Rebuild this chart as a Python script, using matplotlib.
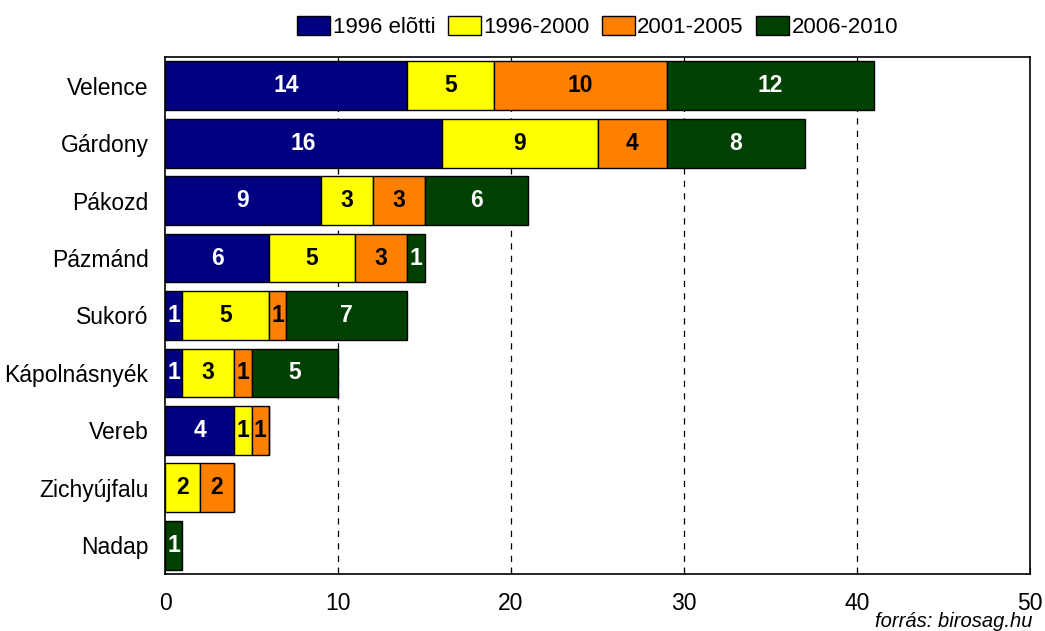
import numpy as np
import matplotlib.pyplot as plt

plt.rcParams['font.family'] = ['Liberation Sans', 'DejaVu Sans']

towns = ["Velence", "Gárdony", "Pákozd", "Pázmánd", "Sukoró",
         "Kápolnásnyék", "Vereb", "Zichyújfalu", "Nadap"]
periods = ["1996 elõtti", "1996-2000", "2001-2005", "2006-2010"]
before_1996 = [14, 16, 9, 6, 1, 1, 4, 0, 0]
p1996_2000 = [5, 9, 3, 5, 5, 3, 1, 2, 0]
p2001_2005 = [10, 4, 3, 3, 1, 1, 1, 2, 0]
p2006_2010 = [12, 8, 6, 1, 7, 5, 0, 0, 1]

series = [before_1996, p1996_2000, p2001_2005, p2006_2010]
colors = ["#000080", "#FFFF00", "#FF8000", "#004000"]
text_colors = ["white", "black", "black", "white"]

fig = plt.figure(figsize=(10.45, 6.31), dpi=100)
ax = fig.add_axes([0.158, 0.0903, 0.8276, 0.8194])

y = np.arange(len(towns))
left = np.zeros(len(towns))
for vals, col, tc, name in zip(series, colors, text_colors, periods):
    vals = np.array(vals)
    bars = ax.barh(y, vals, left=left, height=0.85, color=col,
                   edgecolor="black", linewidth=1, label=name, zorder=3)
    for b, v in zip(bars, vals):
        if v > 0:
            ax.text(b.get_x() + b.get_width() / 2, b.get_y() + b.get_height() / 2,
                    str(v), ha="center", va="center", color=tc,
                    fontsize=16.5, fontweight="bold", zorder=4)
    left += vals

ax.set_xlim(0, 50)
ax.set_ylim(len(towns) - 0.5, -0.5)
ax.set_xticks([0, 10, 20, 30, 40, 50])
ax.set_yticks(y)
ax.set_yticklabels(towns)
ax.tick_params(axis="x", direction="in", length=5, labelsize=16.5, pad=13)
ax.tick_params(axis="y", length=0, labelsize=16.5, pad=12)
for xv in [10, 20, 30, 40]:
    ax.axvline(xv, color="black", linestyle=(0, (5, 5)), linewidth=0.9, zorder=1)
for s in ax.spines.values():
    s.set_linewidth(1.2)

ax.legend(loc="lower center", bbox_to_anchor=(0.5, 1.015), ncol=4, frameon=False,
          fontsize=16, handlelength=1.5, handleheight=0.9, handletextpad=0.1,
          columnspacing=0.55, borderaxespad=0.1)

fig.text(0.988, 0.0, "forrás: birosag.hu", ha="right", va="bottom",
         fontsize=14.5, style="italic")

plt.savefig("out.png", dpi=100)
